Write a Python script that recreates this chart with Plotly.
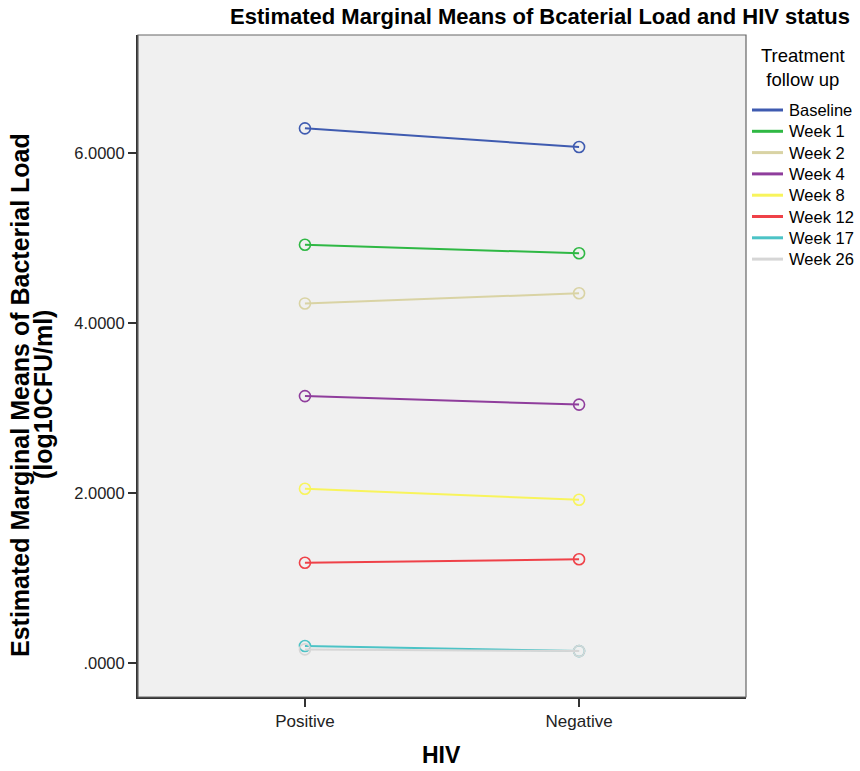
import plotly.graph_objects as go

# HIV status groups on the x axis
hiv_groups = ["Positive", "Negative"]

# Treatment follow-up time points and their estimated marginal means (log10 CFU/ml)
follow_up = ["Baseline", "Week 1", "Week 2", "Week 4", "Week 8", "Week 12", "Week 17", "Week 26"]
baseline = [6.29, 6.07]
week1 = [4.92, 4.82]
week2 = [4.23, 4.35]
week4 = [3.14, 3.04]
week8 = [2.05, 1.92]
week12 = [1.18, 1.22]
week17 = [0.20, 0.14]
week26 = [0.16, 0.14]
series = [baseline, week1, week2, week4, week8, week12, week17, week26]

colors = ["#3f5bb0", "#2fb844", "#d9d3a4", "#8f3d9c", "#f8f45c", "#ef4148", "#4cc3c6", "#d6d6d6"]

y_ticks = [0, 2, 4, 6]
y_tick_labels = [".0000", "2.0000", "4.0000", "6.0000"]

y_title_lines = ["Estimated Marginal Means of Bacterial Load", "(log10CFU/ml)"]

font_family = "Liberation Sans, Arial, sans-serif"

W, H = 860, 771
M_L, M_R, M_T, M_B = 138, 114, 35, 74
plot_w = W - M_L - M_R
plot_h = H - M_T - M_B


def px_x(px):
    """pixel column -> paper x"""
    return (px - M_L) / plot_w


def px_y(py):
    """pixel row -> paper y"""
    return (H - M_B - py) / plot_h


fig = go.Figure()
for name, vals, col in zip(follow_up, series, colors):
    # line with open circle markers at each group
    fig.add_trace(go.Scatter(
        x=hiv_groups, y=vals, mode="lines+markers", name=name,
        line=dict(color=col, width=2),
        marker=dict(symbol="circle-open", size=11, color=col, line=dict(width=1.6, color=col)),
        showlegend=False,
    ))

fig.update_layout(
    width=W, height=H,
    margin=dict(l=M_L, r=M_R, t=M_T, b=M_B, autoexpand=False),
    paper_bgcolor="white",
    plot_bgcolor="#f0f0f0",
    font=dict(family=font_family, color="#000"),
    showlegend=False,
    title=dict(
        text="<b>Estimated Marginal Means of Bcaterial Load and HIV status</b>",
        x=540 / W, xanchor="center", y=1 - 16 / H, yanchor="middle",
        font=dict(size=22, color="#000"),
    ),
    xaxis=dict(
        type="category", range=[-0.609, 1.609], automargin=False,
        showgrid=False, zeroline=False,
        showline=True, linecolor="#333", linewidth=2, mirror=False,
        ticks="outside", ticklen=8, tickcolor="#333", tickwidth=1.5,
        tickfont=dict(size=17, color="#222"),
    ),
    yaxis=dict(
        range=[-0.4, 7.388], automargin=False,
        tickvals=y_ticks, ticktext=y_tick_labels,
        showgrid=False, zeroline=False,
        showline=True, linecolor="#333", linewidth=2, mirror=False,
        ticks="outside", ticklen=8, tickcolor="#333", tickwidth=1.5,
        tickfont=dict(size=16.5, color="#222"),
    ),
)

# axis titles
fig.add_annotation(text="<b>HIV</b>", xref="paper", yref="paper",
                   x=px_x(441), y=px_y(755), xanchor="center", yanchor="middle",
                   showarrow=False, font=dict(size=23, color="#000"))
for line_text, col_px in zip(y_title_lines, [20, 43]):
    fig.add_annotation(text="<b>" + line_text + "</b>",
                       xref="paper", yref="paper", textangle=-90,
                       x=px_x(col_px), y=px_y(395), xanchor="center", yanchor="middle",
                       showarrow=False, font=dict(size=25, color="#000"))

# legend: title plus a short line key and label per follow-up point
fig.add_annotation(text="Treatment<br>follow up", xref="paper", yref="paper",
                   x=px_x(803), y=px_y(67), xanchor="center", yanchor="middle",
                   showarrow=False, font=dict(size=18.5, color="#000"))
for i, (name, col) in enumerate(zip(follow_up, colors)):
    row = 110 + 21.3 * i
    fig.add_shape(type="line", xref="paper", yref="paper",
                  x0=px_x(752), x1=px_x(783), y0=px_y(row), y1=px_y(row),
                  line=dict(color=col, width=3))
    fig.add_annotation(text=name, xref="paper", yref="paper",
                       x=px_x(787), y=px_y(row), xanchor="left", yanchor="middle",
                       showarrow=False, font=dict(size=16.5, color="#000"))

# light frame around the plotting area
fig.add_shape(type="rect", xref="paper", yref="paper", x0=0, y0=0, x1=1, y1=1,
              line=dict(color="#666", width=1.2), fillcolor="rgba(0,0,0,0)", layer="above")

fig.write_html("out.html")
